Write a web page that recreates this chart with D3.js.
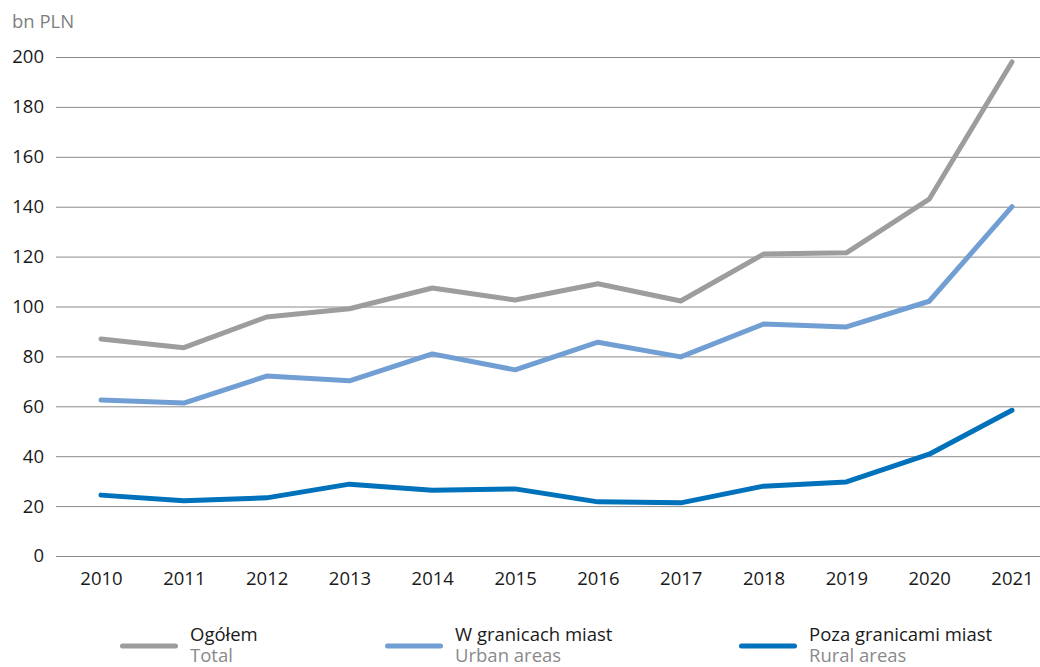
<!DOCTYPE html>
<html>
<head>
<meta charset="utf-8">
<script src="https://cdn.jsdelivr.net/npm/d3@7"></script>
<style>
  body { margin: 0; background: #fff; }
  svg { display: block; font-family: "Open Sans", "Noto Sans", sans-serif; }
</style>
</head>
<body>
<svg id="chart" width="1040" height="667"></svg>
<script>
// Investment outlays, bn PLN
const years = [2010, 2011, 2012, 2013, 2014, 2015, 2016, 2017, 2018, 2019, 2020, 2021];
const total = [87.0, 83.5, 95.8, 99.1, 107.4, 102.6, 109.1, 102.2, 121.0, 121.5, 143.0, 198.0];
const urban = [62.5, 61.3, 72.1, 70.2, 81.0, 74.6, 85.7, 79.8, 93.0, 91.8, 102.1, 140.0];
const rural = [24.4, 22.1, 23.3, 28.8, 26.4, 26.9, 21.7, 21.3, 28.0, 29.7, 40.8, 58.4];
const yTicks = [0, 20, 40, 60, 80, 100, 120, 140, 160, 180, 200];

const series = [
  { pl: "Ogółem", en: "Total", values: total, color: "#9d9d9d" },
  { pl: "W granicach miast", en: "Urban areas", values: urban, color: "#729fd3" },
  { pl: "Poza granicami miast", en: "Rural areas", values: rural, color: "#0071bb" }
];

const svg = d3.select("#chart");
const plotLeft = 56, plotRight = 1040, plotTop = 57, plotBottom = 556;
const fontSize = 18.5;

const x = d3.scalePoint().domain(years).range([101, 1012]);
const y = d3.scaleLinear().domain([0, 200]).range([plotBottom, plotTop]);

// unit label
svg.append("text").attr("x", 12).attr("y", 28)
  .attr("fill", "#7f7f7f").attr("font-size", fontSize).text("bn PLN");

// gridlines + y labels
const yAxis = d3.axisLeft(y).tickValues(yTicks).tickSize(-(plotRight - plotLeft)).tickPadding(12);
const gy = svg.append("g").attr("transform", `translate(${plotLeft},0)`).call(yAxis);
gy.select(".domain").remove();
gy.selectAll(".tick line").attr("stroke", "#8a8a8a").attr("stroke-width", 1);
gy.selectAll(".tick text").attr("fill", "#1a1a1a").attr("font-size", fontSize)
  .attr("font-family", "\"Open Sans\", sans-serif");

// x labels
const xAxis = d3.axisBottom(x).tickSize(0).tickPadding(16);
const gx = svg.append("g").attr("transform", `translate(0,${plotBottom})`).call(xAxis);
gx.select(".domain").remove();
gx.selectAll(".tick text").attr("fill", "#1a1a1a").attr("font-size", fontSize)
  .attr("font-family", "\"Open Sans\", sans-serif");

// series lines
const line = d3.line().x((d, i) => x(years[i])).y(d => y(d));
series.forEach(s => {
  svg.append("path").datum(s.values)
    .attr("d", line)
    .attr("fill", "none")
    .attr("stroke", s.color)
    .attr("stroke-width", 5)
    .attr("stroke-linecap", "round")
    .attr("stroke-linejoin", "round");
});

// legend
const legendX = [120, 385, 739];
series.forEach((s, i) => {
  const g = svg.append("g").attr("transform", `translate(${legendX[i]},0)`);
  g.append("line").attr("x1", 2.5).attr("x2", 55.5).attr("y1", 646).attr("y2", 646)
    .attr("stroke", s.color).attr("stroke-width", 5).attr("stroke-linecap", "round");
  g.append("text").attr("x", 70).attr("y", 641).attr("font-size", fontSize)
    .attr("fill", "#1a1a1a").text(s.pl);
  g.append("text").attr("x", 70).attr("y", 662).attr("font-size", fontSize)
    .attr("fill", "#8a8a8a").text(s.en);
});
</script>
</body>
</html>
